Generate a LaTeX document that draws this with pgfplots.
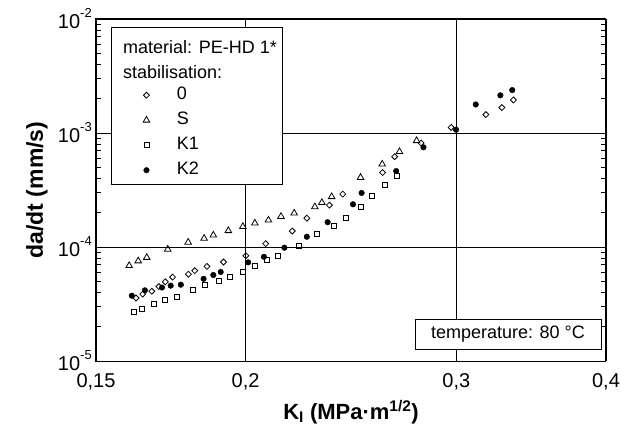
\documentclass[border=0pt]{standalone}
\usepackage{fontspec}
\setmainfont{Liberation Sans}
\usepackage{pgfplots}
\usepackage{pgfplotstable}
\pgfplotsset{compat=1.18}
\newcommand\ex[1]{10\raisebox{0.55em}{\fontsize{13}{13}\selectfont #1}}

\pgfplotstableread{
K v
0.1620 3.57e-5
0.1641 3.86e-5
0.1670 4.09e-5
0.1693 4.50e-5
0.1714 4.95e-5
0.1738 5.44e-5
0.1792 5.77e-5
0.1814 6.20e-5
0.1857 6.76e-5
0.1917 7.39e-5
0.2001 8.39e-5
0.2079 1.07e-4
0.2188 1.38e-4
0.2250 1.79e-4
0.2350 2.33e-4
0.2411 2.91e-4
0.2603 4.50e-4
0.2664 6.20e-4
0.2803 8.17e-4
0.2970 1.12e-3
0.3175 1.45e-3
0.3274 1.67e-3
0.3348 1.95e-3
}\tabO

\pgfplotstableread{
K v
0.1599 6.86e-5
0.1627 7.54e-5
0.1654 8.09e-5
0.1722 9.55e-5
0.1791 1.10e-4
0.1847 1.19e-4
0.1880 1.27e-4
0.1935 1.39e-4
0.1990 1.51e-4
0.2036 1.62e-4
0.2090 1.72e-4
0.2141 1.85e-4
0.2196 1.98e-4
0.2285 2.25e-4
0.2316 2.45e-4
0.2360 2.76e-4
0.2495 4.07e-4
0.2601 5.33e-4
0.2689 6.86e-4
0.2779 8.56e-4
}\tabS

\pgfplotstableread{
K v
0.1615 2.69e-5
0.1640 2.85e-5
0.1678 3.15e-5
0.1713 3.42e-5
0.1754 3.68e-5
0.1806 4.24e-5
0.1849 4.66e-5
0.1900 5.06e-5
0.1942 5.51e-5
0.1991 6.07e-5
0.2038 6.80e-5
0.2084 7.66e-5
0.2128 8.42e-5
0.2218 1.03e-4
0.2293 1.31e-4
0.2370 1.54e-4
0.2426 1.81e-4
0.2495 2.26e-4
0.2549 2.82e-4
0.2612 3.48e-4
0.2676 4.22e-4
}\tabKa

\pgfplotstableread{
K v
0.1607 3.74e-5
0.1648 4.17e-5
0.1703 4.41e-5
0.1732 4.58e-5
0.1766 4.67e-5
0.1845 5.26e-5
0.1880 5.68e-5
0.1907 6.04e-5
0.2010 7.33e-5
0.2072 8.20e-5
0.2155 9.86e-5
0.2250 1.23e-4
0.2342 1.65e-4
0.2459 2.37e-4
0.2500 2.98e-4
0.2672 4.64e-4
0.2816 7.49e-4
0.2998 1.07e-3
0.3114 1.78e-3
0.3265 2.14e-3
0.3340 2.38e-3
}\tabKb

\begin{document}
\begin{tikzpicture}
\begin{axis}[
  name=ax,
  scale only axis, width=510pt, height=342pt,
  xmode=log, ymode=log,
  xmin=0.15, xmax=0.4, ymin=1e-5, ymax=1e-2,
  xtick={0.15,0.2,0.3,0.4},
  xticklabels={{0,15},{0,2},{0,3},{0,4}},
  minor xtick={},
  ytick={1e-5,1e-4,1e-3,1e-2},
  yticklabels={\ex{-5},\ex{-4},\ex{-3},\ex{-2}},
  minor ytick={2e-5,3e-5,4e-5,5e-5,6e-5,7e-5,8e-5,9e-5,2e-4,3e-4,4e-4,5e-4,6e-4,7e-4,8e-4,9e-4,2e-3,3e-3,4e-3,5e-3,6e-3,7e-3,8e-3,9e-3},
  grid=major,
  major grid style={black, line width=0.5pt},
  tick align=inside, tick pos=both,
  major tick length=6pt, minor tick length=5pt,
  every tick/.style={black, line width=0.7pt},
  axis line style={line width=1pt},
  ticklabel style={font=\fontsize{20}{24}\selectfont},
  xticklabel style={anchor=base, yshift=-26pt},
  yticklabel style={inner sep=0pt, xshift=-4pt},
  xlabel={K\textsubscript{I} (MPa·m\textsuperscript{1/2})},
  ylabel={da/dt (mm/s)},
  every axis x label/.style={at={([yshift=-51pt]axis description cs:0.5,0)}, anchor=center, font=\fontsize{22}{26}\selectfont\bfseries},
  every axis y label/.style={at={([xshift=-59pt]axis description cs:0,0.5)}, rotate=90, anchor=center, font=\fontsize{23}{26}\selectfont\bfseries},
  legend cell align=left,
  legend style={draw=none, fill=none,
    at={(axis description cs:0.0922,0.8026)}, anchor=north west,
    font=\fontsize{18}{20}\selectfont, row sep=8pt, inner sep=0pt,
    nodes={inner sep=0pt, text height=13pt, text depth=4pt},
    /tikz/every odd column/.style={column sep=27pt}},
]
\draw[line width=0.6pt, fill=white] ([shift={(15pt,-8pt)}]rel axis cs:0,1) rectangle ([shift={(186pt,-165pt)}]rel axis cs:0,1);
\node[anchor=west, inner sep=0pt, font=\fontsize{18}{20}\selectfont] at ([shift={(27pt,-28pt)}]rel axis cs:0,1) {material: PE-HD 1*};
\node[anchor=west, inner sep=0pt, font=\fontsize{18}{20}\selectfont] at ([shift={(27pt,-53pt)}]rel axis cs:0,1) {stabilisation:};
\node[draw, fill=white, line width=0.6pt, minimum width=186pt, minimum height=30pt, inner sep=0pt, font=\fontsize{18}{20}\selectfont] at ([shift={(412pt,-315pt)}]rel axis cs:0,1) {temperature: 80 °C};

\addplot[only marks, mark=square, mark size=2.1pt, mark options={rotate=45, line width=0.8pt, fill=white}] table[x=K, y=v] {\tabO};
\addlegendentry{0}
\addplot[only marks, mark=triangle, mark size=3.8pt, mark options={line width=0.8pt, fill=white}] table[x=K, y=v] {\tabS};
\addlegendentry{S}
\addplot[only marks, mark=square, mark size=2.5pt, mark options={line width=0.8pt, fill=white}] table[x=K, y=v] {\tabKa};
\addlegendentry{K1}
\addplot[only marks, mark=*, mark size=2.8pt, mark options={fill=black}] table[x=K, y=v] {\tabKb};
\addlegendentry{K2}
\end{axis}
\pgfresetboundingbox
\path ([shift={(-96pt,-75pt)}]ax.south west) rectangle ([shift={(16pt,19pt)}]ax.north east);
\end{tikzpicture}
\end{document}
